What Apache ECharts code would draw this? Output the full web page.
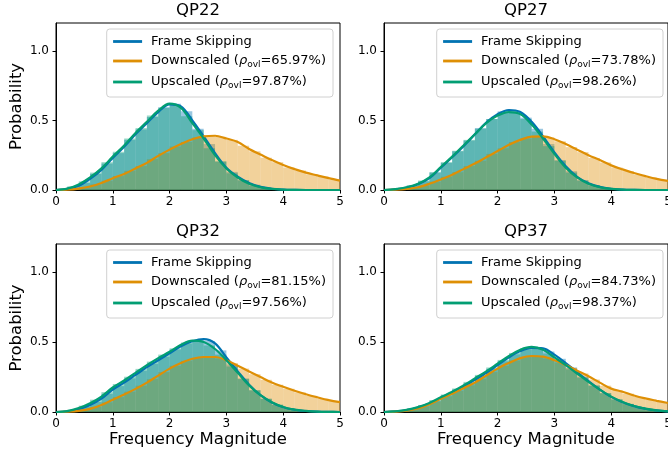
<!DOCTYPE html>
<html>
<head>
<meta charset="utf-8">
<script src="https://cdn.jsdelivr.net/npm/echarts@6.0.0/dist/echarts.min.js"></script>
<style>
  html, body { margin: 0; padding: 0; background: #fff; }
  #chart { width: 668px; height: 459px; }
</style>
</head>
<body>
<div id="chart"></div>
<script>
// x grid: KDE sample points and histogram bin edges
const xGrid = [0, 0.2, 0.4, 0.6, 0.8, 1.0, 1.2, 1.4, 1.6, 1.8, 2.0, 2.2, 2.4, 2.6, 2.8,
               3.0, 3.2, 3.4, 3.6, 3.8, 4.0, 4.2, 4.4, 4.6, 4.8, 5.0];

const panelTitles = ['QP22', 'QP27', 'QP32', 'QP37'];
const downOvl = ['65.97', '73.78', '81.15', '84.73'];
const upOvl   = ['97.87', '98.26', '97.56', '98.37'];

// KDE curves (probability density at xGrid)
const kdeFS22   = [0, .008, .03, .08, .145, .23, .31, .40, .48, .56, .615, .60, .50, .385, .265, .16, .095, .05, .022, .009, .003, .001, 0, 0, 0, 0];
const kdeDown22 = [0, .002, .01, .025, .05, .085, .115, .155, .195, .245, .29, .33, .365, .385, .39, .37, .345, .295, .255, .215, .18, .15, .125, .105, .085, .067];
const kdeUp22   = [0, .01, .04, .09, .155, .24, .32, .41, .49, .57, .62, .59, .48, .37, .25, .155, .09, .045, .02, .008, .003, .001, 0, 0, 0, 0];

const kdeFS27   = [0, .005, .018, .042, .085, .16, .235, .315, .40, .485, .545, .575, .56, .49, .385, .27, .17, .095, .048, .022, .009, .003, .001, 0, 0, 0];
const kdeDown27 = [0, .002, .008, .02, .045, .076, .11, .15, .19, .235, .28, .325, .36, .383, .385, .365, .33, .29, .25, .215, .177, .148, .122, .10, .08, .065];
const kdeUp27   = [0, .006, .02, .045, .09, .165, .24, .32, .40, .48, .535, .56, .545, .47, .37, .26, .16, .09, .045, .02, .008, .003, .001, 0, 0, 0];

const kdeFS32   = [0, .005, .02, .05, .095, .16, .21, .265, .32, .37, .42, .47, .505, .52, .49, .39, .29, .195, .12, .068, .034, .016, .007, .003, .001, 0];
const kdeDown32 = [0, .002, .008, .022, .05, .088, .125, .165, .21, .26, .31, .35, .38, .393, .393, .37, .33, .29, .25, .21, .18, .152, .127, .105, .085, .07];
const kdeUp32   = [0, .006, .028, .063, .11, .175, .225, .28, .335, .385, .43, .48, .51, .50, .45, .37, .28, .19, .12, .07, .036, .017, .008, .003, .001, 0];

const kdeFS37   = [0, .004, .013, .032, .06, .10, .14, .182, .23, .28, .335, .39, .435, .458, .455, .41, .35, .285, .22, .16, .108, .07, .042, .023, .011, .005];
const kdeDown37 = [0, .003, .01, .025, .055, .095, .13, .17, .21, .26, .31, .35, .385, .40, .395, .37, .335, .295, .255, .21, .167, .145, .118, .097, .08, .064];
const kdeUp37   = [0, .005, .015, .035, .065, .105, .145, .19, .24, .29, .345, .40, .445, .465, .445, .39, .335, .275, .215, .16, .11, .072, .043, .024, .012, .005];

// histogram heights, one per bin between consecutive xGrid values
const histFS22   = [.005, .02, .05, .115, .19, .265, .36, .435, .525, .595, .62, .565, .44, .33, .205, .13, .07, .038, .015, .006, .002, .001, 0, 0, 0];
const histDown22 = [.001, .006, .017, .04, .066, .10, .138, .172, .222, .265, .312, .345, .378, .385, .382, .36, .318, .278, .232, .20, .162, .14, .113, .097, .075];
const histUp22   = [.006, .027, .062, .125, .20, .275, .37, .445, .535, .59, .61, .53, .43, .30, .205, .12, .07, .03, .014, .005, .002, .001, 0, 0, 0];

const histFS27   = [.003, .012, .032, .062, .125, .195, .278, .355, .445, .51, .565, .57, .52, .44, .33, .215, .135, .07, .036, .015, .006, .002, .001, 0, 0];
const histDown27 = [.001, .005, .014, .033, .06, .095, .128, .172, .21, .26, .30, .345, .37, .386, .376, .35, .308, .272, .23, .198, .162, .136, .11, .09, .072];
const histUp27   = [.003, .013, .033, .068, .128, .20, .282, .36, .44, .51, .55, .555, .51, .42, .315, .21, .125, .068, .032, .014, .005, .002, .001, 0, 0];

const histFS32   = [.003, .012, .036, .072, .13, .185, .24, .295, .345, .395, .447, .49, .515, .508, .44, .34, .24, .155, .094, .05, .025, .011, .005, .002, .001];
const histDown32 = [.001, .005, .015, .036, .069, .106, .145, .188, .235, .285, .33, .365, .386, .395, .382, .35, .31, .27, .23, .195, .166, .14, .116, .095, .078];
const histUp32   = [.003, .017, .045, .088, .142, .20, .252, .308, .36, .41, .455, .497, .505, .475, .41, .325, .235, .155, .095, .053, .026, .012, .005, .002, .001];

const histFS37   = [.002, .009, .022, .046, .08, .12, .161, .206, .255, .308, .362, .412, .447, .457, .432, .38, .318, .252, .19, .134, .089, .056, .032, .017, .008];
const histDown37 = [.001, .007, .018, .04, .075, .112, .15, .19, .235, .285, .33, .368, .392, .398, .382, .352, .315, .275, .232, .188, .156, .131, .107, .088, .072];
const histUp37   = [.003, .01, .025, .05, .085, .125, .168, .215, .265, .318, .372, .422, .455, .455, .418, .362, .305, .245, .188, .135, .091, .058, .034, .018, .008];

const kdeFS   = [kdeFS22, kdeFS27, kdeFS32, kdeFS37];
const kdeDown = [kdeDown22, kdeDown27, kdeDown32, kdeDown37];
const kdeUp   = [kdeUp22, kdeUp27, kdeUp32, kdeUp37];
const histFS   = [histFS22, histFS27, histFS32, histFS37];
const histDown = [histDown22, histDown27, histDown32, histDown37];
const histUp   = [histUp22, histUp27, histUp32, histUp37];

/* ---- styling ---- */
const FONT = "'DejaVu Sans', sans-serif";
const BLUE = '#0173b2', ORANGE = '#de8f05', GREEN = '#029e73';

const grids = [
  { left: 56,  top: 23,  width: 284, height: 167 },
  { left: 384, top: 23,  width: 284, height: 167 },
  { left: 56,  top: 244, width: 284, height: 168 },
  { left: 384, top: 244, width: 284, height: 168 }
];

function histData(h) {
  return h.map((v, i) => [xGrid[i], xGrid[i + 1], v]);
}
function kdeData(k) {
  return k.map((v, i) => [xGrid[i], v]);
}

function histSeries(idx, name, h, color) {
  return {
    type: 'custom',
    name: name,
    xAxisIndex: idx,
    yAxisIndex: idx,
    clip: true,
    z: 1,
    silent: true,
    encode: { x: [0, 1], y: 2 },
    data: histData(h),
    renderItem: function (params, api) {
      const p0 = api.coord([api.value(0), api.value(2)]);
      const p1 = api.coord([api.value(1), 0]);
      return {
        type: 'rect',
        shape: { x: p0[0], y: p0[1], width: p1[0] - p0[0], height: p1[1] - p0[1] },
        style: { fill: color, opacity: 0.4 }
      };
    }
  };
}

function lineSeries(idx, name, k, color) {
  return {
    type: 'line',
    name: name,
    xAxisIndex: idx,
    yAxisIndex: idx,
    data: kdeData(k),
    smooth: 0.35,
    symbol: 'none',
    showSymbol: false,
    clip: true,
    z: 3,
    color: color,
    lineStyle: { color: color, width: 2.2 }
  };
}

const downName = i => 'Downscaled (ρovl=' + downOvl[i] + '%)';
const upName   = i => 'Upscaled (ρovl=' + upOvl[i] + '%)';

const series = [];
const legends = [];
const titles = [];
const xAxes = [];
const yAxes = [];

grids.forEach((g, i) => {
  series.push(histSeries(i, 'hFS' + i, histFS[i], BLUE));
  series.push(histSeries(i, 'hDown' + i, histDown[i], ORANGE));
  series.push(histSeries(i, 'hUp' + i, histUp[i], GREEN));
  series.push(lineSeries(i, 'Frame Skipping', kdeFS[i], BLUE));
  series.push(lineSeries(i, downName(i), kdeDown[i], ORANGE));
  series.push(lineSeries(i, upName(i), kdeUp[i], GREEN));

  const bottom = i >= 2;
  const leftCol = i % 2 === 0;

  xAxes.push({
    type: 'value', gridIndex: i, min: 0, max: 5, interval: 1,
    name: bottom ? 'Frequency Magnitude' : '',
    nameLocation: 'middle', nameGap: 14,
    nameTextStyle: { fontFamily: FONT, fontSize: 16.5, color: '#000', verticalAlign: 'top' },
    axisLine: { show: true, onZero: false, lineStyle: { color: '#000', width: 1 } },
    axisTick: { show: true, length: 3.5, lineStyle: { color: '#000', width: 1 } },
    axisLabel: { fontFamily: FONT, fontSize: 12, color: '#000', margin: 6 },
    splitLine: { show: false }
  });
  yAxes.push({
    type: 'value', gridIndex: i, min: 0, max: 1.2,
    name: leftCol ? 'Probability' : '',
    nameLocation: 'middle', nameGap: 31,
    nameTextStyle: { fontFamily: FONT, fontSize: 16.5, color: '#000' },
    axisLine: { show: true, onZero: false, lineStyle: { color: '#000', width: 1 } },
    axisTick: { show: true, length: 3.5, lineStyle: { color: '#000', width: 1 }, customValues: [0, 0.5, 1.0] },
    axisLabel: { fontFamily: FONT, fontSize: 12, color: '#000', margin: 7,
                 customValues: [0, 0.5, 1.0], formatter: v => v.toFixed(1) },
    splitLine: { show: false }
  });

  titles.push({
    text: panelTitles[i],
    left: g.left + g.width / 2,
    top: bottom ? 223 : 2,
    textAlign: 'center',
    padding: 0,
    textStyle: { fontFamily: FONT, fontSize: 16.5, fontWeight: 'normal', color: '#000' }
  });

  legends.push({
    data: ['Frame Skipping', downName(i), upName(i)],
    orient: 'vertical',
    right: 668 - (g.left + g.width) + (leftCol ? 7 : 5),
    top: g.top + 6,
    padding: [6, 7, 7, 5],
    itemGap: 6.5,
    itemWidth: 29,
    itemHeight: 14,
    backgroundColor: 'rgba(255,255,255,0.8)',
    borderColor: '#d0d0d0',
    borderWidth: 1,
    borderRadius: 3,
    selectedMode: false,
    lineStyle: { width: 2.8 },
    itemStyle: { opacity: 0 },
    textStyle: {
      fontFamily: FONT, fontSize: 13, color: '#000', padding: [0, 0, 0, 4],
      rich: {
        t: { fontFamily: FONT, fontSize: 13, color: '#000' },
        r: { fontFamily: FONT, fontSize: 13, color: '#000', fontStyle: 'italic' },
        s: { fontFamily: FONT, fontSize: 9, color: '#000', padding: [7, 0, 0, 0] }
      }
    },
    formatter: function (name) {
      const k = name.indexOf('ρovl');
      if (k < 0) return '{t|' + name + '}';
      return '{t|' + name.slice(0, k) + '}{r|ρ}{s|ovl}{t|' + name.slice(k + 4) + '}';
    }
  });
});

const chart = echarts.init(document.getElementById('chart'), null, { renderer: 'canvas' });
chart.setOption({
  animation: false,
  backgroundColor: '#fff',
  title: titles,
  grid: grids.map(g => Object.assign({
    show: true, borderColor: '#000', borderWidth: 1, backgroundColor: 'transparent',
    containLabel: false, outerBoundsMode: 'none'
  }, g)),
  xAxis: xAxes,
  yAxis: yAxes,
  legend: legends,
  series: series
});
</script>
</body>
</html>
